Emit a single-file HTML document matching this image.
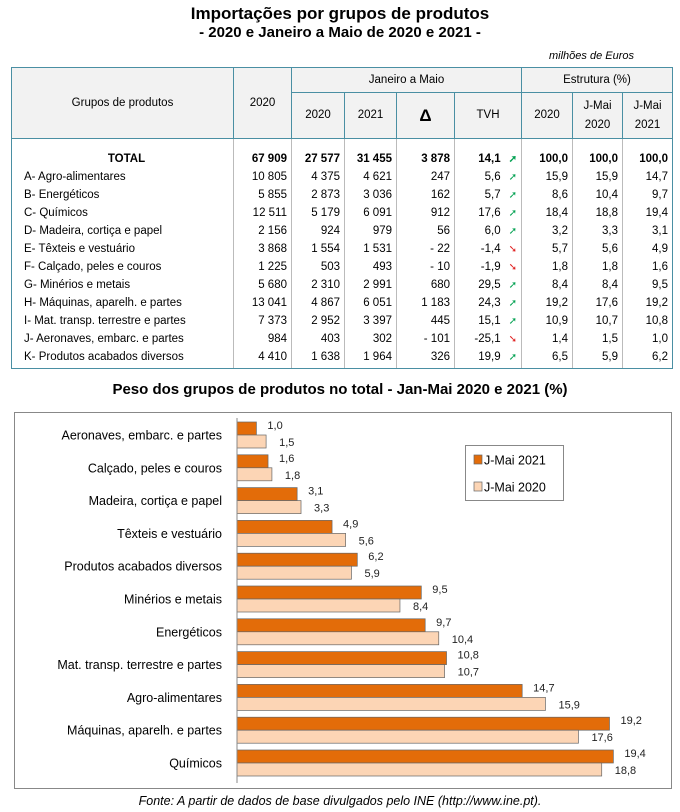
<!DOCTYPE html>
<html><head><meta charset="utf-8">
<style>
body{margin:0;width:680px;height:812px;background:#fff;font-family:"Liberation Sans",sans-serif;color:#000;position:relative;overflow:hidden}
.t1{position:absolute;top:4px;left:0;width:680px;text-align:center;font-weight:bold;font-size:17px}
.t2{position:absolute;top:24px;left:0;width:680px;text-align:center;font-weight:bold;font-size:15px}
.unit{position:absolute;top:50px;right:46px;font-style:italic;font-size:11px}
table{position:absolute;left:11px;top:67px;border-collapse:collapse;table-layout:fixed;font-size:11.5px}
td{padding:0 4px;white-space:nowrap;overflow:hidden}
.hd td{background:#f2f2f2;border:1.5px solid #4a8fa3;text-align:center}
.bd td{height:18px;text-align:right;border-left:1px solid #bbb;border-right:1px solid #bbb}
.bd td.n{text-align:left;padding-left:12px}
.tot td{font-weight:bold}
.tot td.n{text-align:center}
.up{color:#00a050;font-size:10px;margin-left:8px}
.dn{color:#e02020;font-size:10px;margin-left:8px}
.sp td{height:11px}
.last td{height:2px;border-bottom:1.5px solid #4a8fa3}
.bd td:first-child{border-left:1.5px solid #4a8fa3}
.bd td:last-child{border-right:1.5px solid #4a8fa3}
.ctitle{position:absolute;top:381px;left:0;width:680px;text-align:center;font-weight:bold;font-size:15px}
.foot{position:absolute;top:794px;left:0;width:680px;text-align:center;font-style:italic;font-size:12.5px}
</style></head><body>
<div class="t1">Importações por grupos de produtos</div>
<div class="t2">- 2020 e Janeiro a Maio de 2020 e 2021 -</div>
<div class="unit">milhões de Euros</div>
<table>
<colgroup><col style="width:222px"><col style="width:58px"><col style="width:53px"><col style="width:52px"><col style="width:58px"><col style="width:67px"><col style="width:51px"><col style="width:50px"><col style="width:50px"></colgroup>
<tr class="hd" style="height:25px"><td rowspan="2">Grupos de produtos</td><td rowspan="2">2020</td><td colspan="4">Janeiro a Maio</td><td colspan="3">Estrutura (%)</td></tr>
<tr class="hd" style="height:46px;line-height:19px"><td>2020</td><td>2021</td><td style="font-size:17px;font-weight:bold">Δ</td><td>TVH</td><td>2020</td><td>J-Mai<br>2020</td><td>J-Mai<br>2021</td></tr>
<tr class="bd sp"><td></td><td></td><td></td><td></td><td></td><td></td><td></td><td></td><td></td></tr>
<tr class="bd tot"><td class="n">TOTAL</td><td>67 909</td><td>27 577</td><td>31 455</td><td>3 878</td><td>14,1<span class="up">➚</span></td><td>100,0</td><td>100,0</td><td>100,0</td></tr>
<tr class="bd"><td class="n">A- Agro-alimentares</td><td>10 805</td><td>4 375</td><td>4 621</td><td>247</td><td>5,6<span class="up">➚</span></td><td>15,9</td><td>15,9</td><td>14,7</td></tr>
<tr class="bd"><td class="n">B- Energéticos</td><td>5 855</td><td>2 873</td><td>3 036</td><td>162</td><td>5,7<span class="up">➚</span></td><td>8,6</td><td>10,4</td><td>9,7</td></tr>
<tr class="bd"><td class="n">C- Químicos</td><td>12 511</td><td>5 179</td><td>6 091</td><td>912</td><td>17,6<span class="up">➚</span></td><td>18,4</td><td>18,8</td><td>19,4</td></tr>
<tr class="bd"><td class="n">D- Madeira, cortiça e papel</td><td>2 156</td><td>924</td><td>979</td><td>56</td><td>6,0<span class="up">➚</span></td><td>3,2</td><td>3,3</td><td>3,1</td></tr>
<tr class="bd"><td class="n">E- Têxteis e vestuário</td><td>3 868</td><td>1 554</td><td>1 531</td><td>- 22</td><td>-1,4<span class="dn">➘</span></td><td>5,7</td><td>5,6</td><td>4,9</td></tr>
<tr class="bd"><td class="n">F- Calçado, peles e couros</td><td>1 225</td><td>503</td><td>493</td><td>- 10</td><td>-1,9<span class="dn">➘</span></td><td>1,8</td><td>1,8</td><td>1,6</td></tr>
<tr class="bd"><td class="n">G- Minérios e metais</td><td>5 680</td><td>2 310</td><td>2 991</td><td>680</td><td>29,5<span class="up">➚</span></td><td>8,4</td><td>8,4</td><td>9,5</td></tr>
<tr class="bd"><td class="n">H- Máquinas, aparelh. e partes</td><td>13 041</td><td>4 867</td><td>6 051</td><td>1 183</td><td>24,3<span class="up">➚</span></td><td>19,2</td><td>17,6</td><td>19,2</td></tr>
<tr class="bd"><td class="n">I- Mat. transp. terrestre e partes</td><td>7 373</td><td>2 952</td><td>3 397</td><td>445</td><td>15,1<span class="up">➚</span></td><td>10,9</td><td>10,7</td><td>10,8</td></tr>
<tr class="bd"><td class="n">J- Aeronaves, embarc. e partes</td><td>984</td><td>403</td><td>302</td><td>- 101</td><td>-25,1<span class="dn">➘</span></td><td>1,4</td><td>1,5</td><td>1,0</td></tr>
<tr class="bd"><td class="n">K- Produtos acabados diversos</td><td>4 410</td><td>1 638</td><td>1 964</td><td>326</td><td>19,9<span class="up">➚</span></td><td>6,5</td><td>5,9</td><td>6,2</td></tr>
<tr class="bd last"><td></td><td></td><td></td><td></td><td></td><td></td><td></td><td></td><td></td></tr>
</table>
<div class="ctitle">Peso dos grupos de produtos no total - Jan-Mai 2020 e 2021 (%)</div>
<svg id="chart" width="680" height="812" style="position:absolute;left:0;top:0"></svg>
<div class="foot">Fonte: A partir de dados de base divulgados pelo INE (http://www.ine.pt).</div>
<script>
const categories=["Aeronaves, embarc. e partes","Calçado, peles e couros","Madeira, cortiça e papel","Têxteis e vestuário","Produtos acabados diversos","Minérios e metais","Energéticos","Mat. transp. terrestre e partes","Agro-alimentares","Máquinas, aparelh. e partes","Químicos"];
const values2021=[1.0,1.6,3.1,4.9,6.2,9.5,9.7,10.8,14.7,19.2,19.4];
const values2020=[1.5,1.8,3.3,5.6,5.9,8.4,10.4,10.7,15.9,17.6,18.8];
const seriesNames=["J-Mai 2021","J-Mai 2020"];
const NS="http://www.w3.org/2000/svg";
const svg=document.getElementById('chart');
function mk(tag,attrs,parent){const e=document.createElementNS(NS,tag);for(const k in attrs)e.setAttribute(k,attrs[k]);(parent||svg).appendChild(e);return e;}
const x0=237,pxPer=19.4;
function xs(v){return x0+v*pxPer;}
function yc(i){return 435+i*32.8;}
const frame=mk('rect',{x:14.5,y:412.5,width:657,height:376,fill:'#fff',stroke:'#888','stroke-width':1});


categories.forEach((c,i)=>{
 const y=yc(i);
 const lab=mk('text',{x:222,y:y+4.5,'text-anchor':'end','font-size':12.5,fill:'#000'});
 lab.textContent=c;
 
 
 const b1=mk('rect',{x:x0,y:y-13,width:xs(values2021[i])-x0,height:13,fill:'#e36c09',stroke:'#666','stroke-width':0.7});
 
 
 const b2=mk('rect',{x:x0,y:y,width:xs(values2020[i])-x0,height:13,fill:'#fcd5b5',stroke:'#666','stroke-width':0.7});
 
 
 const t1=mk('text',{x:xs(values2021[i])+11,y:y-6,'font-size':11,fill:'#222'});
 t1.textContent=values2021[i].toFixed(1).replace('.',',');
 
 
 const t2=mk('text',{x:xs(values2020[i])+13,y:y+11,'font-size':11,fill:'#222'});
 t2.textContent=values2020[i].toFixed(1).replace('.',',');
 
 
});
const ax=mk('line',{x1:x0,y1:418,x2:x0,y2:783,stroke:'#888','stroke-width':1});


const lg=mk('rect',{x:465.5,y:445.5,width:98,height:55,fill:'#fff',stroke:'#888'});


[['#e36c09',461],['#fcd5b5',488]].forEach((s,k)=>{
 const sw=mk('rect',{x:474,y:s[1]-6,width:8,height:9,fill:s[0],stroke:'#666','stroke-width':0.7});
 
 
 const lt=mk('text',{x:484,y:s[1]+3.5,'font-size':12.5,fill:'#000'});
 lt.textContent=seriesNames[k];
 
 
});
</script>
</body></html>
